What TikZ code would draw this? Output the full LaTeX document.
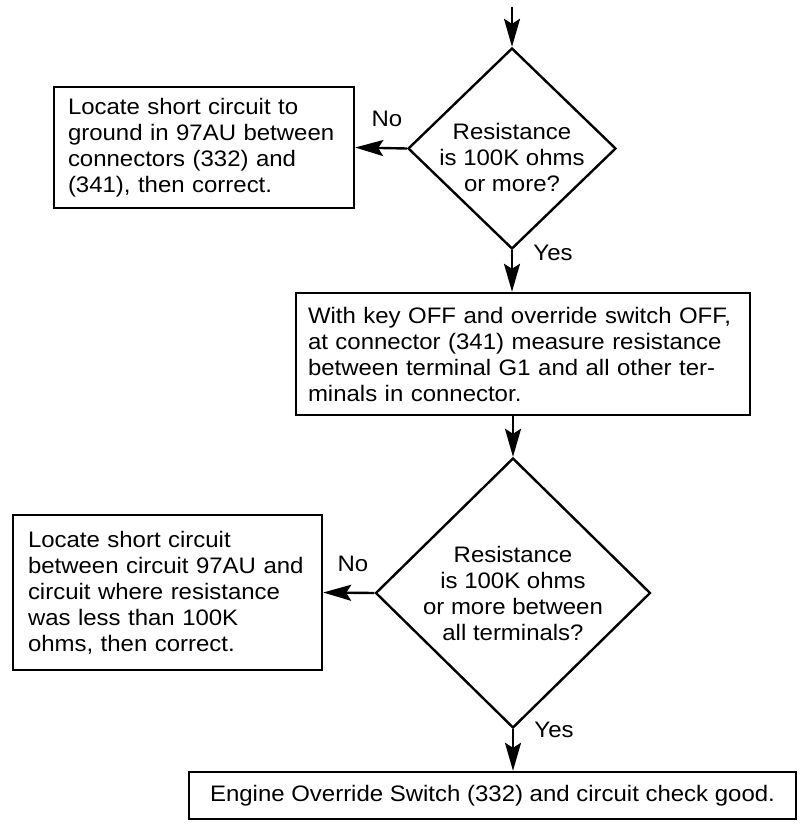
\documentclass[tikz,border=0pt]{standalone}
\usepackage{fontspec}
\setmainfont{Liberation Sans}[FakeStretch=1.07]
\usetikzlibrary{shapes.geometric,arrows.meta}
\begin{document}
\begin{tikzpicture}[x=0.5pt,y=-0.5pt,
  every node/.style={font=\fontsize{11.2pt}{13pt}\selectfont},
  box/.style={draw,line width=1.2pt,inner ysep=0pt,align=left},
  dia/.style={draw,diamond,line width=1.2pt,inner sep=0pt},
  lbl/.style={inner sep=0pt},
  arr/.style={line width=1.2pt,-{Stealth[length=14pt,width=8pt,inset=2.5pt]}}]
\useasboundingbox (0,0) rectangle (800,835);
\coordinate (start) at (512,7);
\node[dia,minimum width=104pt,minimum height=100.5pt] (d1) at (512,148.5) {};
\node[align=center,inner sep=0pt] (t1) at (512,157) {Resistance\\is 100K ohms\\or more?};
\node[box,text width=136pt,inner xsep=7pt,minimum height=60.5pt] (b1) at (204,147.5)
  {Locate short circuit to\\ground in 97AU between\\connectors (332) and\\(341), then correct.};
\node[box,text width=215pt,inner xsep=6pt,minimum height=61pt] (b2) at (523,354)
  {With key OFF and override switch OFF,\\at connector (341) measure resistance\\between terminal G1 and all other ter-\\minals in connector.};
\node[dia,minimum width=137.5pt,minimum height=135pt] (d2) at (513,593) {};
\node[align=center,inner sep=0pt] (t2) at (513,593) {Resistance\\is 100K ohms\\or more between\\all terminals?};
\node[box,text width=139.5pt,inner xsep=7.5pt,minimum height=77.5pt] (b3) at (167.5,592.5)
  {Locate short circuit\\between circuit 97AU and\\circuit where resistance\\was less than 100K\\ohms, then correct.};
\node[box,align=center,minimum width=303.5pt,minimum height=23.5pt] (b4) at (492.5,795.5)
  {Engine Override Switch (332) and circuit check good.};
\node[lbl] (no1) at (387,119) {No};
\node[lbl] (yes1) at (553,253) {Yes};
\node[lbl] (no2) at (353,564) {No};
\node[lbl] (yes2) at (554,730) {Yes};
\draw[arr] (start) -- (d1.north);
\draw[arr] (d1.west) -- (b1.east);
\draw[arr] (d1.south) -- (d1.south |- b2.north);
\draw[arr] (d2.north |- b2.south) -- (d2.north);
\draw[arr] (d2.west) -- (b3.east);
\draw[arr] (d2.south) -- (d2.south |- b4.north);
\end{tikzpicture}
\end{document}
